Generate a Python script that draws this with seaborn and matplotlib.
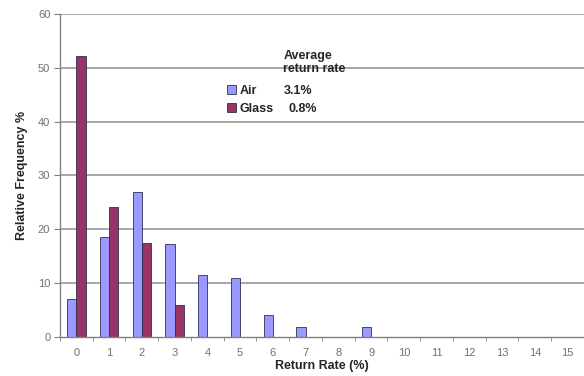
import numpy as np
import pandas as pd
import matplotlib
matplotlib.use('Agg')
import matplotlib.pyplot as plt
import seaborn as sns

# Return rate bins (%) and relative frequency (%) per method
rates = [str(i) for i in range(16)]
air = [7.0, 18.5, 27.0, 17.3, 11.5, 11.0, 4.0, 1.8, 0, 1.8, 0, 0, 0, 0, 0, 0]
glass = [52.2, 24.2, 17.5, 6.0, 0, 0, 0, 0, 0, 0, 0, 0, 0, 0, 0, 0]
series = ['Air', 'Glass']
averages = ['3.1%', '0.8%']
colors = ['#9999FF', '#993366']

df = pd.DataFrame({
    'rate': rates * 2,
    'freq': air + glass,
    'method': ['Air'] * len(rates) + ['Glass'] * len(rates),
})

sns.set_style('white')
plt.rcParams['font.family'] = ['Liberation Sans', 'DejaVu Sans']

fig = plt.figure(figsize=(5.84, 3.76), dpi=100)
ax = fig.add_axes([0.1027, 0.1037, 0.8973, 0.8591])

sns.barplot(data=df, x='rate', y='freq', hue='method', order=rates, hue_order=series,
            palette=colors, width=0.56, edgecolor='#303050', linewidth=0.6,
            saturation=1, ax=ax, legend=True)

ax.set_ylim(0, 60)
ax.set_xlim(-0.5, 15.5)
ax.set_yticks(range(0, 61, 10))
for y in range(10, 61, 10):
    ax.axhline(y, color='#a0a0a0', lw=1.3, zorder=0)

# tick marks on category boundaries, labels centred
ax.set_xticks(np.arange(-0.5, 16, 1), minor=True)
ax.tick_params(axis='x', which='major', length=0, pad=8, labelsize=8, labelcolor='#707070')
ax.tick_params(axis='x', which='minor', length=3, direction='out', color='#808080', bottom=True)
ax.tick_params(axis='y', length=4, direction='out', color='#808080', left=True,
               labelsize=8, labelcolor='#707070', pad=3)

for s in ['top', 'right']:
    ax.spines[s].set_visible(False)
for s in ['left', 'bottom']:
    ax.spines[s].set_color('#808080')
    ax.spines[s].set_linewidth(1.0)

ax.set_xlabel('Return Rate (%)', fontsize=9, fontweight='bold', labelpad=1)
ax.set_ylabel('Relative Frequency %', fontsize=9, fontweight='bold', labelpad=7)

handles, labels = ax.get_legend_handles_labels()
ax.legend(handles, labels, loc='upper left', bbox_to_anchor=(0.298, 0.815), frameon=False,
          handlelength=0.7, handleheight=0.7, handletextpad=0.3, labelspacing=0.45,
          prop={'weight': 'bold', 'size': 9})

fig.text(0.485, 0.866, 'Average\nreturn rate', fontsize=9, fontweight='bold',
         va='top', ha='left', linespacing=1.1)
for i, avg in enumerate(averages):
    fig.text(0.486 + 0.008 * i, 0.759 - 0.048 * i, avg, fontsize=9, fontweight='bold',
             va='center', ha='left')

fig.savefig('out.png', dpi=100)
